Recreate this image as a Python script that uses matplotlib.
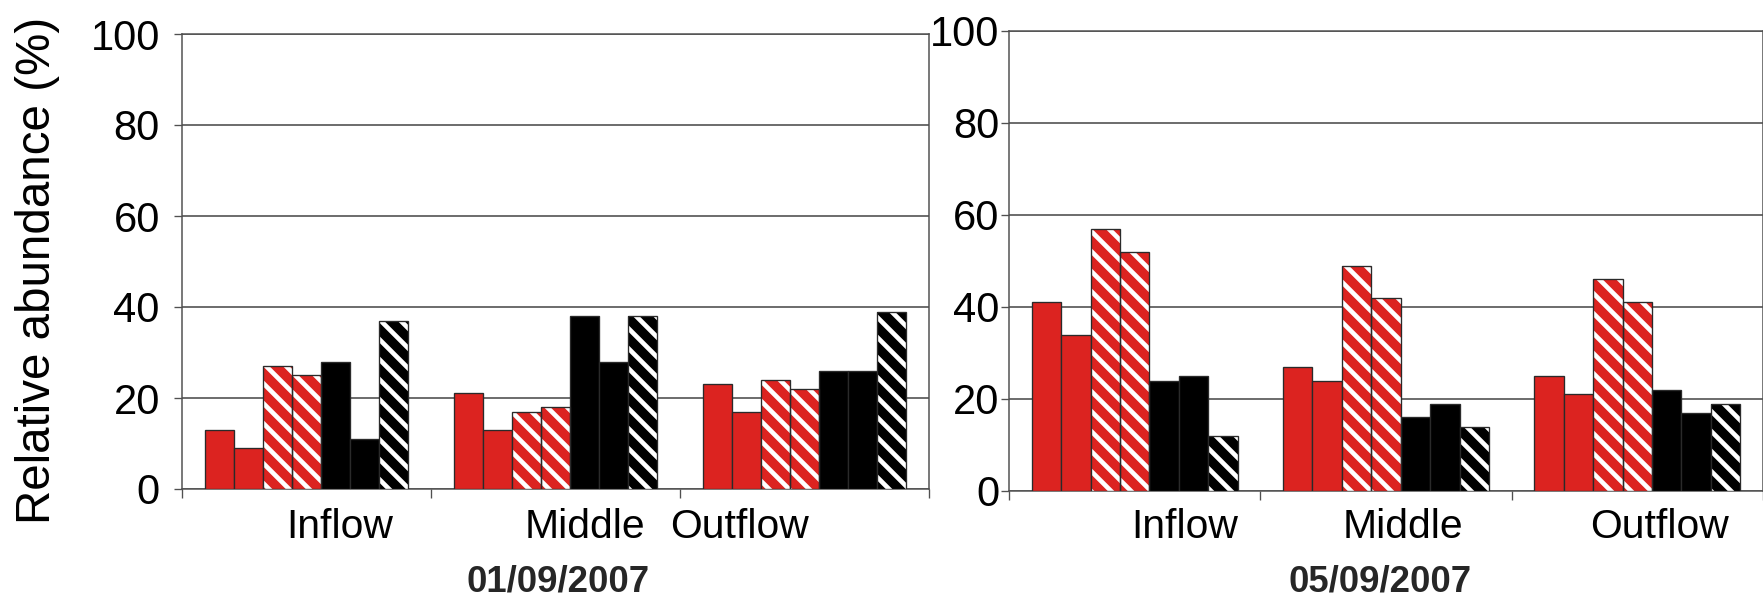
import numpy as np
import matplotlib
matplotlib.use("Agg")
import matplotlib.pyplot as plt
import matplotlib.transforms as mtransforms

plt.rcParams['font.family'] = ['Liberation Sans', 'DejaVu Sans']
plt.rcParams['hatch.linewidth'] = 2.8

# sampling sites and per-site abundances (%) for the seven groups
sites = ["Inflow", "Middle", "Outflow"]
dates = ["01/09/2007", "05/09/2007"]

day1_inflow = [13, 9, 27, 25, 28, 11, 37]
day1_middle = [21, 13, 17, 18, 38, 28, 38]
day1_outflow = [23, 17, 24, 22, 26, 26, 39]

day2_inflow = [41, 34, 57, 52, 24, 25, 12]
day2_middle = [27, 24, 49, 42, 16, 19, 14]
day2_outflow = [25, 21, 46, 41, 22, 17, 19]

RED = '#dc2320'
BLK = '#000000'
# (face colour, striped?) for each of the seven series
series_style = [(RED, False), (RED, False), (RED, True), (RED, True),
                (BLK, False), (BLK, False), (BLK, True)]

W, H, DPI = 1763, 598, 120
fig = plt.figure(figsize=(W / DPI, H / DPI), dpi=DPI)
ax1 = fig.add_axes([182 / W, 1 - 489 / H, 747 / W, 455 / H])
ax2 = fig.add_axes([1009 / W, 1 - 491 / H, 754 / W, 460 / H])

bar_w = 0.117
centers = np.arange(len(sites)) + 0.5


def draw_panel(ax, rows, label_x, label_y, ypad):
    vals = np.array(rows)
    for i, (fc, striped) in enumerate(series_style):
        x = centers + (i - 3) * bar_w
        if striped:
            ax.bar(x, vals[:, i], bar_w, color=fc, edgecolor='white',
                   linewidth=0, hatch='\\\\', zorder=3)
            ax.bar(x, vals[:, i], bar_w, fill=False, edgecolor='#2a2a2a',
                   linewidth=0.8, zorder=4)
        else:
            ax.bar(x, vals[:, i], bar_w, color=fc, edgecolor='#2a2a2a',
                   linewidth=0.8, zorder=3)

    ax.set_xlim(0, 3)
    ax.set_ylim(0, 100)
    ax.set_xticks([0, 1, 2, 3])
    ax.set_xticklabels([])
    ax.set_yticks([0, 20, 40, 60, 80, 100])
    ax.tick_params(axis='x', direction='out', length=5.5, width=0.8,
                   color='#505050')
    ax.tick_params(axis='y', direction='out', length=4.8, width=0.8,
                   color='#505050', labelsize=25, pad=ypad)
    ax.yaxis.grid(True, color='#404040', linewidth=0.9)
    ax.set_axisbelow(True)
    for sp in ax.spines.values():
        sp.set_color('#505050')
        sp.set_linewidth(0.9)

    trans = mtransforms.blended_transform_factory(ax.transData, ax.transAxes)
    for name, lx in zip(sites, label_x):
        ax.text(lx, label_y, name, transform=trans, ha='center',
                va='baseline', fontsize=24.5)


draw_panel(ax1, [day1_inflow, day1_middle, day1_outflow],
           [0.635, 1.618, 2.24], -(538 - 489) / 455, 8.5)
draw_panel(ax2, [day2_inflow, day2_middle, day2_outflow],
           [0.70, 1.568, 2.587], -(538 - 491) / 460, 1)

fig.text(558 / W, 1 - 591 / H, dates[0], ha='center', va='baseline',
         fontsize=22, fontweight='bold', color='#262626')
fig.text(1380 / W, 1 - 591 / H, dates[1], ha='center', va='baseline',
         fontsize=22, fontweight='bold', color='#262626')

fig.text(38 / W, 1 - 270 / H, "Relative abundance (%)", rotation=90,
         ha='center', va='center', fontsize=28.5)

fig.savefig("out.png", dpi=DPI)
